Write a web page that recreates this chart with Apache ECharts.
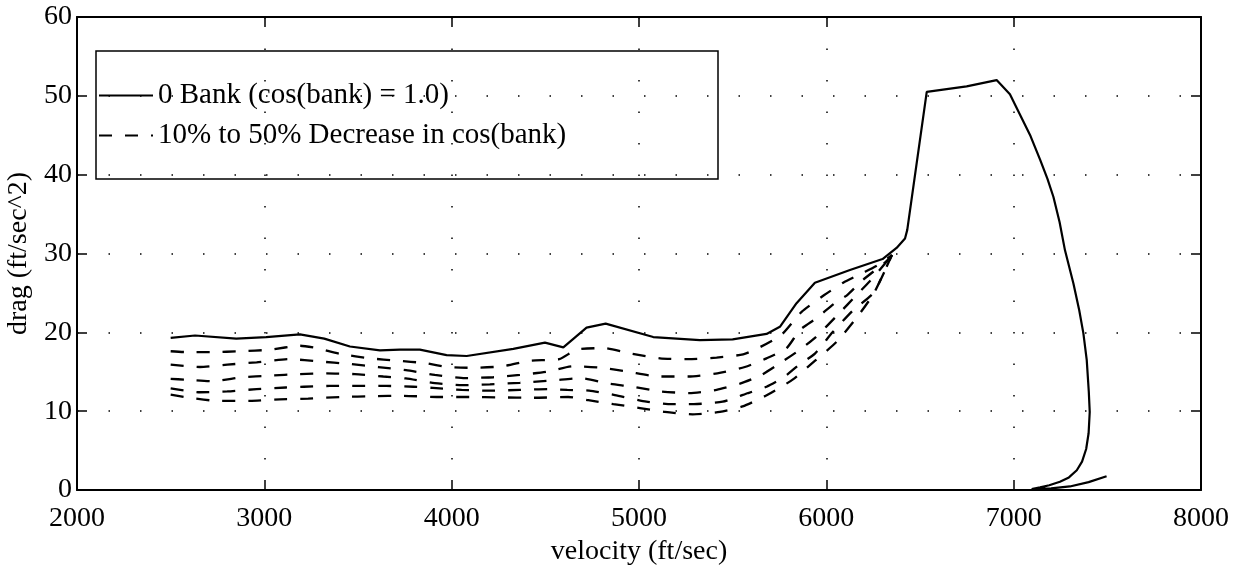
<!DOCTYPE html>
<html>
<head>
<meta charset="utf-8">
<script src="https://cdn.jsdelivr.net/npm/echarts@6/dist/echarts.min.js"></script>
<style>
  html, body { margin: 0; padding: 0; background: #fff; }
  #chart { width: 1241px; height: 569px; }
</style>
</head>
<body>
<div id="chart"></div>
<script>
// velocity (ft/sec), drag (ft/sec^2)
var bank0 = [
  [2500, 19.3], [2630, 19.6], [2850, 19.2], [3010, 19.4], [3190, 19.75], [3320, 19.2],
  [3457, 18.2], [3617, 17.7], [3724, 17.8], [3830, 17.8], [3973, 17.1], [4080, 17.0],
  [4329, 17.9], [4498, 18.7], [4596, 18.1], [4720, 20.6], [4822, 21.1], [5076, 19.4],
  [5325, 19.0], [5500, 19.1], [5681, 19.8], [5752, 20.7], [5841, 23.7], [5939, 26.3],
  [6126, 27.9], [6300, 29.3], [6375, 30.7], [6420, 31.9], [6432, 33.0], [6536, 50.5],
  [6749, 51.2], [6909, 52.0], [6980, 50.2], [7034, 47.6], [7090, 44.9], [7141, 41.9],
  [7180, 39.5], [7212, 37.2], [7245, 34.0], [7274, 30.4], [7319, 26.2], [7350, 22.8],
  [7372, 19.9], [7390, 16.5], [7401, 12.5], [7406, 9.9], [7400, 7.2], [7387, 5.2],
  [7365, 3.6], [7337, 2.5], [7295, 1.6], [7247, 1.05], [7190, 0.6], [7141, 0.34],
  [7096, 0.13], [7200, 0.2], [7300, 0.45], [7400, 1.0], [7496, 1.75]
];
var dec10 = [
  [2500, 17.6], [2576, 17.5], [2727, 17.5], [2870, 17.6], [3030, 17.8], [3190, 18.3],
  [3279, 18.0], [3407, 17.25], [3567, 16.7], [3706, 16.4], [3857, 16.1], [3977, 15.6],
  [4119, 15.5], [4275, 15.7], [4418, 16.4], [4574, 16.6], [4667, 17.8], [4809, 18.0],
  [4960, 17.3], [5112, 16.7], [5263, 16.6], [5414, 16.8], [5556, 17.2], [5636, 18.0],
  [5761, 19.7], [5868, 22.6], [5987, 24.7], [6090, 26.3], [6200, 27.6], [6280, 28.6],
  [6350, 29.8]
];
var dec20 = [
  [2500, 15.9], [2656, 15.6], [2802, 15.9], [2959, 16.2], [3133, 16.6], [3297, 16.3],
  [3448, 16.0], [3608, 15.6], [3756, 15.2], [3910, 14.6], [4071, 14.2], [4222, 14.3],
  [4364, 14.6], [4507, 15.0], [4649, 15.7], [4800, 15.5], [4943, 15.0], [5108, 14.4],
  [5263, 14.4], [5418, 14.8], [5565, 15.6], [5681, 16.7], [5788, 18.0], [5859, 20.3],
  [5948, 21.8], [6055, 23.9], [6110, 24.7], [6193, 26.6], [6320, 29.0], [6350, 29.8]
];
var dec30 = [
  [2500, 14.1], [2576, 14.0], [2727, 13.8], [2879, 14.3], [3030, 14.5], [3186, 14.7],
  [3332, 14.8], [3483, 14.7], [3635, 14.4], [3755, 14.15], [3910, 13.55], [4058, 13.3],
  [4204, 13.4], [4364, 13.6], [4542, 13.9], [4685, 14.2], [4836, 13.5], [4969, 13.1],
  [5112, 12.5], [5268, 12.3], [5414, 12.7], [5539, 13.5], [5654, 14.6], [5766, 16.3],
  [5859, 17.8], [5944, 19.4], [6060, 22.2], [6168, 24.9], [6260, 27.2], [6350, 29.8]
];
var dec40 = [
  [2500, 12.9], [2656, 12.4], [2802, 12.5], [2959, 12.8], [3115, 13.0], [3211, 13.1],
  [3350, 13.2], [3501, 13.2], [3652, 13.2], [3795, 13.1], [3900, 12.95], [4053, 12.7],
  [4204, 12.6], [4364, 12.7], [4516, 12.8], [4617, 12.7], [4734, 12.6], [4871, 12.05],
  [5040, 11.2], [5174, 10.9], [5293, 10.9], [5446, 11.2], [5583, 12.3], [5681, 13.1],
  [5773, 14.3], [5855, 15.9], [5939, 17.3], [6033, 20.0], [6143, 22.8], [6255, 25.1],
  [6350, 29.8]
];
var dec50 = [
  [2500, 12.1], [2603, 11.7], [2754, 11.3], [2923, 11.3], [3083, 11.5], [3234, 11.6],
  [3412, 11.8], [3581, 11.9], [3740, 11.95], [3920, 11.8], [4098, 11.8], [4254, 11.75],
  [4436, 11.7], [4622, 11.8], [4729, 11.4], [4863, 10.9], [5005, 10.4], [5138, 9.9],
  [5286, 9.6], [5432, 9.9], [5553, 10.6], [5684, 12.05], [5820, 14.0], [5940, 16.4],
  [6055, 18.8], [6160, 21.8], [6255, 25.0], [6350, 29.8]
];

var solidName = '0 Bank (cos(bank) = 1.0)';
var dashName = '10% to 50% Decrease in cos(bank)';
var dashedSets = [dec10, dec20, dec30, dec40, dec50];

var font = 'Liberation Serif';
var chart = echarts.init(document.getElementById('chart'));

var series = [{
  name: solidName,
  type: 'line',
  data: bank0,
  symbol: 'none',
  itemStyle: { color: '#000' },
  lineStyle: { color: '#000', width: 2.2 },
  z: 3
}];
dashedSets.forEach(function (d) {
  series.push({
    name: dashName,
    type: 'line',
    data: d,
    symbol: 'none',
    smooth: 0.2,
    itemStyle: { color: '#000' },
    lineStyle: { color: '#000', width: 2.3, type: [13, 13] },
    z: 2
  });
});

var dotted = { show: true, lineStyle: { color: '#000', width: 1.5, type: [1.5, 30] } };
var plain = function (v) { return String(v); };

chart.setOption({
  animation: false,
  backgroundColor: '#fff',
  textStyle: { fontFamily: font },
  grid: { left: 77, right: 40, top: 17, bottom: 79, outerBoundsMode: 'none', containLabel: false },
  legend: {
    data: [solidName, dashName],
    orient: 'vertical',
    left: 98,
    top: 81,
    padding: 0,
    itemGap: 11,
    itemWidth: 54,
    itemHeight: 12,
    selectedMode: false,
    itemStyle: { opacity: 0 },
    textStyle: { fontFamily: font, fontSize: 29, color: '#000', lineHeight: 29 }
  },
  graphic: [{
    type: 'rect',
    shape: { x: 96, y: 51, width: 622, height: 128 },
    style: { fill: null, stroke: '#000', lineWidth: 1.5 },
    z: 10
  }],
  xAxis: [{
    type: 'value', min: 2000, max: 8000, interval: 1000,
    name: 'velocity (ft/sec)', nameLocation: 'middle', nameGap: 45,
    nameTextStyle: { fontFamily: font, fontSize: 28, color: '#000' },
    axisLine: { show: true, onZero: false, lineStyle: { color: '#000', width: 2 } },
    axisTick: { inside: true, length: 10, lineStyle: { color: '#000', width: 1.5 } },
    axisLabel: { fontFamily: font, fontSize: 28, color: '#000', margin: 15, formatter: plain },
    splitLine: dotted
  }, {
    type: 'value', min: 2000, max: 8000, interval: 1000, position: 'top',
    axisLine: { show: true, onZero: false, lineStyle: { color: '#000', width: 2 } },
    axisTick: { inside: true, length: 10, lineStyle: { color: '#000', width: 1.5 } },
    axisLabel: { show: false },
    splitLine: { show: false }
  }],
  yAxis: [{
    type: 'value', min: 0, max: 60, interval: 10,
    name: 'drag (ft/sec^2)', nameLocation: 'middle', nameGap: 41,
    nameTextStyle: { fontFamily: font, fontSize: 28, color: '#000' },
    axisLine: { show: true, onZero: false, lineStyle: { color: '#000', width: 2 } },
    axisTick: { inside: true, length: 10, lineStyle: { color: '#000', width: 1.5 } },
    axisLabel: { fontFamily: font, fontSize: 28, color: '#000', margin: 5, formatter: plain },
    splitLine: dotted
  }, {
    type: 'value', min: 0, max: 60, interval: 10, position: 'right',
    axisLine: { show: true, onZero: false, lineStyle: { color: '#000', width: 2 } },
    axisTick: { inside: true, length: 10, lineStyle: { color: '#000', width: 1.5 } },
    axisLabel: { show: false },
    splitLine: { show: false }
  }],
  series: series
});
</script>
</body>
</html>
